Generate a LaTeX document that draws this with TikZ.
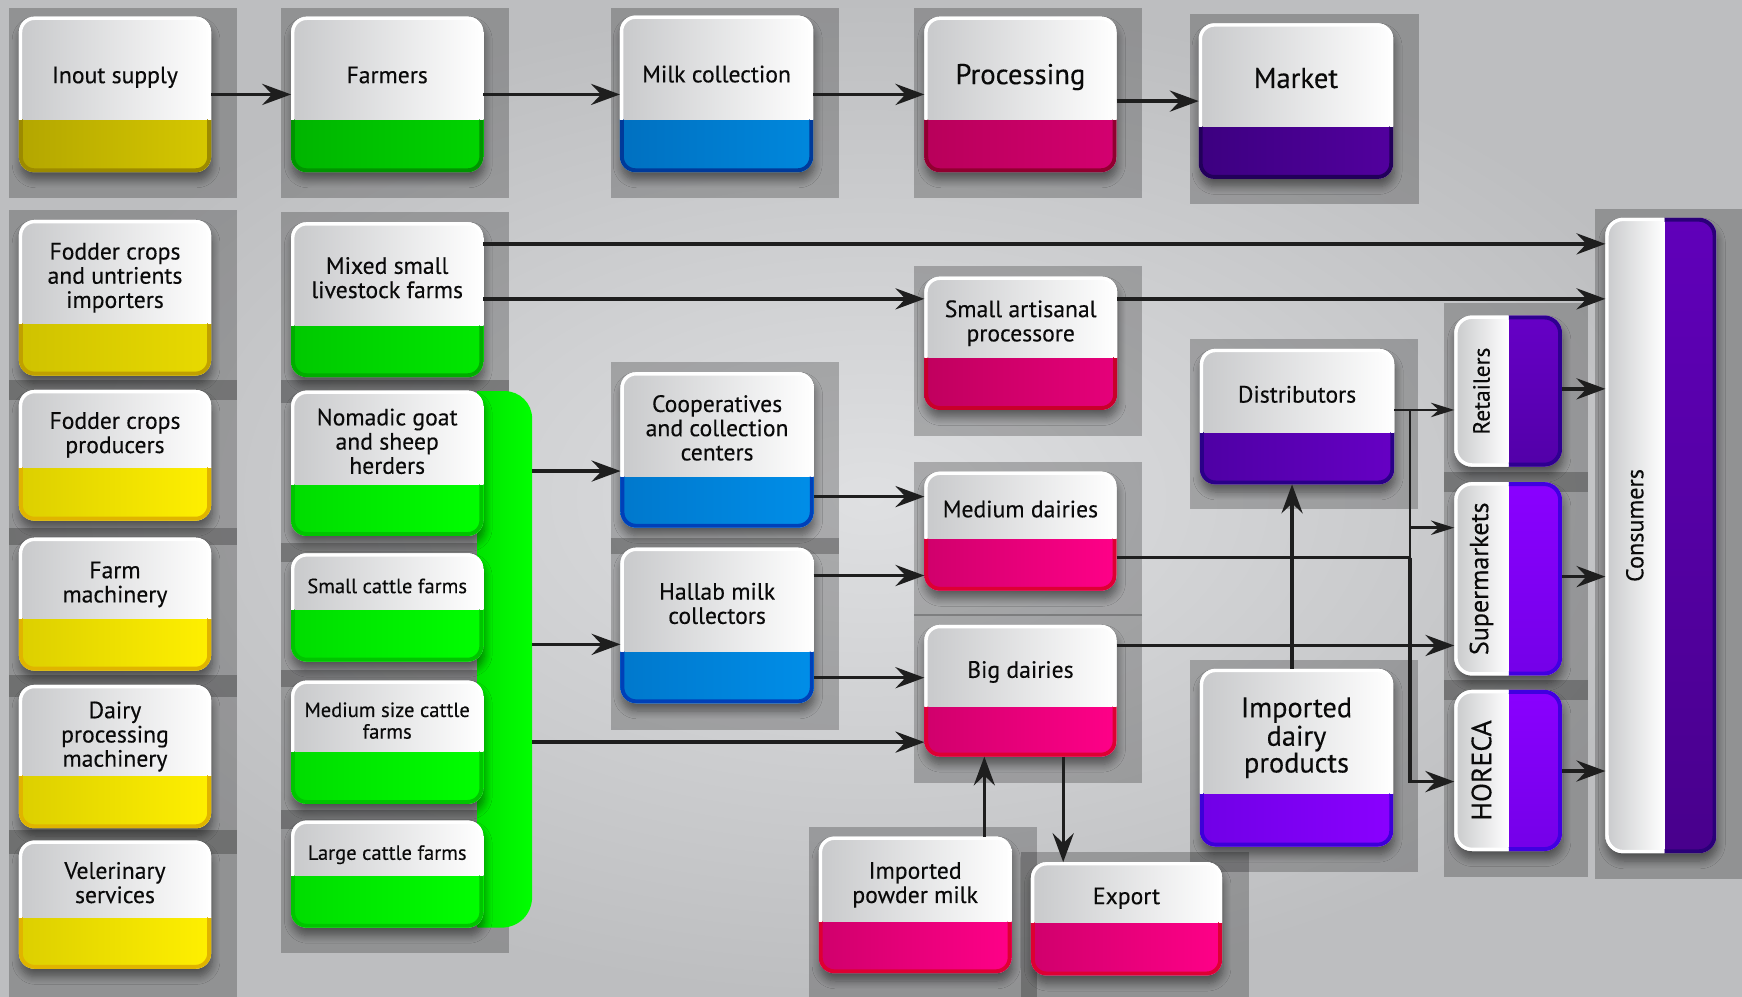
\documentclass[tikz,border=0pt]{standalone}
\usepackage{fontspec}
\setmainfont{PT Sans}[FakeBold=0.3]
\usetikzlibrary{arrows.meta,shadows.blur,calc}
\definecolor{bgIn}{HTML}{DFE0E2}
\definecolor{bgOut}{HTML}{BDBEC0}
\definecolor{arrc}{HTML}{1E1E1E}
\definecolor{txtc}{HTML}{0A0A0A}
\definecolor{topL}{HTML}{C8C9CB}
\definecolor{yelAL}{HTML}{B3A600}\definecolor{yelAR}{HTML}{D6C800}\definecolor{yelAB}{HTML}{9C8A00}
\definecolor{yelBL}{HTML}{CFC200}\definecolor{yelBR}{HTML}{E8DA00}\definecolor{yelBB}{HTML}{C0A000}
\definecolor{yelCL}{HTML}{DCCF00}\definecolor{yelCR}{HTML}{FFF000}\definecolor{yelCB}{HTML}{E0B400}
\definecolor{grnAL}{HTML}{00B400}\definecolor{grnAR}{HTML}{00D400}\definecolor{grnAB}{HTML}{009400}
\definecolor{grnBL}{HTML}{00C800}\definecolor{grnBR}{HTML}{00E800}\definecolor{grnBB}{HTML}{00AC00}
\definecolor{grnCL}{HTML}{00DC00}\definecolor{grnCR}{HTML}{00FF00}\definecolor{grnCB}{HTML}{00C400}
\definecolor{bluAL}{HTML}{0070C0}\definecolor{bluAR}{HTML}{0088DD}\definecolor{bluAB}{HTML}{003A9A}
\definecolor{bluBL}{HTML}{0078CC}\definecolor{bluBR}{HTML}{008EE8}\definecolor{bluBB}{HTML}{0040B8}
\definecolor{pnkAL}{HTML}{B8005A}\definecolor{pnkAR}{HTML}{D40070}\definecolor{pnkAB}{HTML}{900030}
\definecolor{pnkBL}{HTML}{C0005E}\definecolor{pnkBR}{HTML}{E6007A}\definecolor{pnkBB}{HTML}{C8002A}
\definecolor{pnkCL}{HTML}{D0006C}\definecolor{pnkCR}{HTML}{FF0088}\definecolor{pnkCB}{HTML}{DD0033}
\definecolor{purAL}{HTML}{3C0080}\definecolor{purAR}{HTML}{52009E}\definecolor{purAB}{HTML}{22005A}
\definecolor{purBL}{HTML}{4E00A4}\definecolor{purBR}{HTML}{6600C4}\definecolor{purBB}{HTML}{2A0088}
\definecolor{purCL}{HTML}{7000E6}\definecolor{purCR}{HTML}{8A00FF}\definecolor{purCB}{HTML}{3C00D8}
\definecolor{purV1L}{HTML}{5200A8}\definecolor{purV1R}{HTML}{6600C6}\definecolor{purV1B}{HTML}{2E0090}
\definecolor{purV2L}{HTML}{7400E8}\definecolor{purV2R}{HTML}{8A00FF}\definecolor{purV2B}{HTML}{4000E0}
\definecolor{purV3L}{HTML}{48008C}\definecolor{purV3R}{HTML}{6000BA}\definecolor{purV3B}{HTML}{2A0078}
\definecolor{barL}{HTML}{00E400}\definecolor{barR}{HTML}{00FF00}
\newcommand\lblN{\fontsize{21.3}{21.8}\selectfont}
\newcommand\lblS{\fontsize{18.5}{19.5}\selectfont}
\newcommand\lblL{\fontsize{25.8}{26}\selectfont}
\newcommand\lblX{\fontsize{25.5}{22}\selectfont}
\newcommand\lblR{\fontsize{21}{22}\selectfont}
\newcommand\lblQ{\fontsize{23.5}{24}\selectfont}
\newcommand\lblC{\fontsize{21.8}{22}\selectfont}
\newcommand\lblH{\fontsize{25}{26}\selectfont}
\def\vshift{0}
\def\tshift{0}
\newcommand\mkbox[9]{%
  \pgfmathsetmacro\bw{#4-#2}\pgfmathsetmacro\bh{#5-#3}%
  \pgfmathsetmacro\bcx{(#2+#4)/2}\pgfmathsetmacro\bcy{(#3+#5)/2}%
  \pgfmathsetmacro\bty{(#3+#6)/2+6.5+\tshift}%
  \fill[white, rounded corners=14pt, boxshadow] (#2,#3) rectangle (#4,#5);
  \begin{scope}
    \clip[rounded corners=14pt] (#2,#3) rectangle (#4,#5);
    \shade[left color=#7L, right color=#7R] (#2,#6) rectangle (#4,#5);
    \shade[left color=topL, right color=white] (#2,#3) rectangle (#4,#6);
    \begin{scope}
      \clip (#2-3,#6) rectangle (#4+3,#5+3);
      \draw[#7B, line width=7pt, rounded corners=14pt] (#2,#3) rectangle (#4,#5);
    \end{scope}
    \begin{scope}
      \clip (#2-3,#3-3) rectangle (#4+3,#6);
      \draw[white, line width=6pt, rounded corners=14pt] (#2,#3) rectangle (#4,#5);
    \end{scope}
  \end{scope}
  \node[inner sep=0pt, outer sep=0pt, minimum width=\bw pt, minimum height=\bh pt] (#1) at (\bcx,\bcy) {};
  \node[font=#8, align=center, text=txtc, inner sep=0pt] (#1-t) at (\bcx,\bty) {\strut #9\strut};
}
\newcommand\mkvbox[9]{%
  \pgfmathsetmacro\bw{#4-#2}\pgfmathsetmacro\bh{#5-#3}%
  \pgfmathsetmacro\bcx{(#2+#4)/2}\pgfmathsetmacro\bcy{(#3+#5)/2}%
  \pgfmathsetmacro\btx{(#2+#6)/2}\pgfmathsetmacro\bvy{(#3+#5)/2+\vshift}%
  \fill[white, rounded corners=16pt, boxshadow] (#2,#3) rectangle (#4,#5);
  \begin{scope}
    \clip[rounded corners=16pt] (#2,#3) rectangle (#4,#5);
    \shade[top color=#7R, bottom color=#7L] (#6,#3) rectangle (#4,#5);
    \shade[left color=topL, right color=white] (#2,#3) rectangle (#6,#5);
    \begin{scope}
      \clip (#6,#3-3) rectangle (#4+3,#5+3);
      \draw[#7B, line width=7pt, rounded corners=16pt] (#2,#3) rectangle (#4,#5);
    \end{scope}
    \begin{scope}
      \clip (#2-3,#3-3) rectangle (#6,#5+3);
      \draw[white, line width=6pt, rounded corners=16pt] (#2,#3) rectangle (#4,#5);
    \end{scope}
  \end{scope}
  \node[inner sep=0pt, outer sep=0pt, minimum width=\bw pt, minimum height=\bh pt] (#1) at (\bcx,\bcy) {};
  \node[font=#8, rotate=90, text=txtc, inner sep=0pt] (#1-t) at (\btx,\bvy) {#9};
}
\newcommand\panel[4]{\fill[panelbg] (#1,#2) rectangle (#3,#4);}
\begin{document}
\begin{tikzpicture}[x=1pt,y=-1pt,
  boxshadow/.style={blur shadow={shadow xshift=1pt, shadow yshift=-7pt, shadow blur radius=7pt, shadow blur steps=8, shadow opacity=45}},
  panelbg/.style={fill=black, fill opacity=0.23},
  arr/.style={draw=arrc, line width=3pt, -{Stealth[length=26pt,width=19pt,inset=9pt]}},
  arrs/.style={draw=arrc, line width=2.2pt, -{Stealth[length=21pt,width=13pt,inset=7pt]}},
  lnk/.style={draw=arrc, line width=1.7pt},
  lnkt/.style={draw=arrc, line width=3pt}]
\useasboundingbox (0,0) rectangle (1568,897);
\shade[inner color=bgIn, outer color=bgOut] (0,0) rectangle (1568,897);
% panels
\panel{8}{7}{213}{178}
\panel{8}{189}{213}{360}
\panel{8}{342}{213}{491}
\panel{8}{475}{213}{627}
\panel{8}{607.5}{213}{768.5}
\panel{8}{747.5}{213}{897}
\panel{253}{7}{458}{178}
\panel{253}{191}{458}{363}
\panel{253}{342}{458}{505.5}
\panel{253}{489}{458}{618.5}
\panel{253}{603}{458}{746}
\panel{253}{729}{458}{858}
\panel{550}{7}{755}{178}
\panel{550}{326}{755}{498.5}
\panel{550}{484}{755}{657}
\panel{823}{7}{1028}{178}
\panel{823}{239}{1028}{392}
\panel{823}{415.5}{1028}{554.5}
\panel{823}{553}{1028}{705}
\panel{728}{744}{933}{897}
\panel{919}{767}{1124}{897}
\panel{1071}{13}{1277}{184}
\panel{1071}{305}{1276}{458}
\panel{1071}{594}{1276}{785}
\panel{1300}{273}{1429}{443}
\panel{1300}{425}{1429}{630}
\panel{1300}{612}{1429}{789}
\panel{1436}{188}{1568}{791}
% green bar
\shade[left color=barL, right color=barR] (430,352) -- (454,352) .. controls (468,352) and (479,363) .. (479,377) -- (479,807) .. controls (479,823) and (467,835) .. (451,835) -- (430,835) -- cycle;
\node[inner sep=0pt, outer sep=0pt, minimum width=49pt, minimum height=483pt] (greenbar) at (454.5,593.5) {};
% boxes
\def\tshift{2.5}
\mkbox{inout}{17}{15}{190}{155}{108}{yelA}{\lblN}{Inout supply}
\mkbox{farmers}{262}{15}{435}{155}{108}{grnA}{\lblN}{Farmers}
\mkbox{milk}{558}{14}{732}{155}{107.5}{bluA}{\lblN}{Milk collection}
\mkbox{proc}{832}{15}{1005}{155}{108}{pnkA}{\lblL}{Processing}
\def\tshift{0}
\mkbox{market}{1079}{21}{1254}{161}{114}{purA}{\lblL}{Market}
\mkbox{fimp}{17}{198}{190}{338}{291}{yelB}{\lblN}{Fodder crops\\and untrients\\importers}
\mkbox{fprod}{17}{351}{190}{468.6}{421}{yelC}{\lblN}{Fodder crops\\producers}
\mkbox{fmach}{17}{484}{190}{603.6}{557}{yelC}{\lblN}{Farm\\machinery}
\mkbox{dpm}{17}{616.5}{190}{745.5}{698.4}{yelC}{\lblN}{Dairy\\processing\\machinery}
\mkbox{vet}{17}{756.6}{190}{872}{825.5}{yelC}{\lblN}{Velerinary\\services}
\mkbox{mixed}{262}{200}{435}{339.5}{293}{grnB}{\lblN}{Mixed small\\livestock farms}
\mkbox{nomad}{262}{351.6}{435}{482.4}{436}{grnC}{\lblN}{Nomadic goat\\and sheep\\herders}
\mkbox{smallc}{262}{498}{435}{595.5}{549}{grnC}{\lblS}{Small cattle farms}
\mkbox{mediumc}{262}{612.6}{435}{723.6}{676.8}{grnC}{\lblS}{Medium size cattle\\farms}
\mkbox{largec}{262}{738.6}{435}{835}{788.4}{grnC}{\lblS}{Large cattle farms}
\mkbox{coop}{558.5}{335}{732.4}{475}{428.5}{bluB}{\lblN}{Cooperatives\\and collection\\centers}
\mkbox{hallab}{558.5}{493}{732.4}{633}{586.5}{bluB}{\lblN}{Hallab milk\\collectors}
\mkbox{art}{832}{249}{1005.5}{369}{322}{pnkB}{\lblN}{Small artisanal\\processore}
\mkbox{medd}{832}{424.5}{1005}{531.7}{485}{pnkC}{\lblN}{Medium dairies}
\mkbox{bigd}{832}{562.5}{1005}{681}{636}{pnkC}{\lblN}{Big dairies}
\mkbox{ipm}{737}{753}{910.5}{876}{829}{pnkC}{\lblN}{Imported\\powder milk}
\mkbox{export}{928}{776}{1100}{878}{830}{pnkC}{\lblN}{Export}
\mkbox{dist}{1080}{314}{1255}{436}{389}{purB}{\lblN}{Distributors}
\mkbox{idp}{1080}{602}{1254}{762}{714.6}{purC}{\lblX}{Imported\\dairy\\products}
\mkvbox{ret}{1309}{284}{1406}{420}{1358}{purV1}{\lblR}{Retailers}
\mkvbox{sup}{1309}{434}{1406}{608}{1358}{purV2}{\lblQ}{Supermarkets}
\mkvbox{hor}{1309}{621}{1406}{766}{1358}{purV2}{\lblH}{HORECA}
\def\vshift{-9}
\mkvbox{cons}{1445}{196}{1545}{768}{1498}{purV3}{\lblC}{Consumers}
% connectors
\draw[arr] (inout.east |- 0,85) -- (farmers.west |- 0,85);
\draw[arr] (farmers.east |- 0,85) -- (milk.west |- 0,85);
\draw[arr] (milk.east |- 0,85) -- (proc.west |- 0,85);
\draw[arr] (proc.east |- 0,91) -- (market.west |- 0,91);
\draw[arr] (mixed.east |- 0,219.5) -- (cons.west |- 0,219.5);
\draw[arr] (mixed.east |- 0,269) -- (art.west |- 0,269);
\draw[arr] (art.east |- 0,269) -- (cons.west |- 0,269);
\draw[arr] (greenbar.east |- 0,424) -- (coop.west |- 0,424);
\draw[arr] (greenbar.east |- 0,580) -- (hallab.west |- 0,580);
\draw[arr] (greenbar.east |- 0,668) -- (bigd.west |- 0,668);
\draw[arr] (coop.east |- 0,447) -- (medd.west |- 0,447);
\draw[arr] (hallab.east |- 0,518) -- (medd.west |- 0,518);
\draw[arr] (hallab.east |- 0,610) -- (bigd.west |- 0,610);
\coordinate (jt) at (1269,369);
\coordinate (jb) at (1269,475);
\coordinate (jm) at (1269,502);
\draw[lnk] (jt) -- (jm);
\draw[lnkt] (medd.east |- jm) -- (jm);
\draw[arr] (jm) |- (hor.west |- 0,703.5);
\draw[arrs] (jb) -- (sup.west |- jb);
\draw[arrs] (dist.east |- jt) -- (ret.west |- jt);
\draw[arr] (idp.north -| 1163,0) -- (dist.south -| 1163,0);
\draw[arr] (bigd.east |- 0,581) -- (sup.west |- 0,581);
\draw[arr] (ipm.north -| 886,0) -- (bigd.south -| 886,0);
\draw[arr] (bigd.south -| 957,0) -- (export.north -| 957,0);
\draw[arr] (ret.east |- 0,350) -- (cons.west |- 0,350);
\draw[arr] (sup.east |- 0,519) -- (cons.west |- 0,519);
\draw[arr] (hor.east |- 0,694) -- (cons.west |- 0,694);
\end{tikzpicture}
\end{document}
